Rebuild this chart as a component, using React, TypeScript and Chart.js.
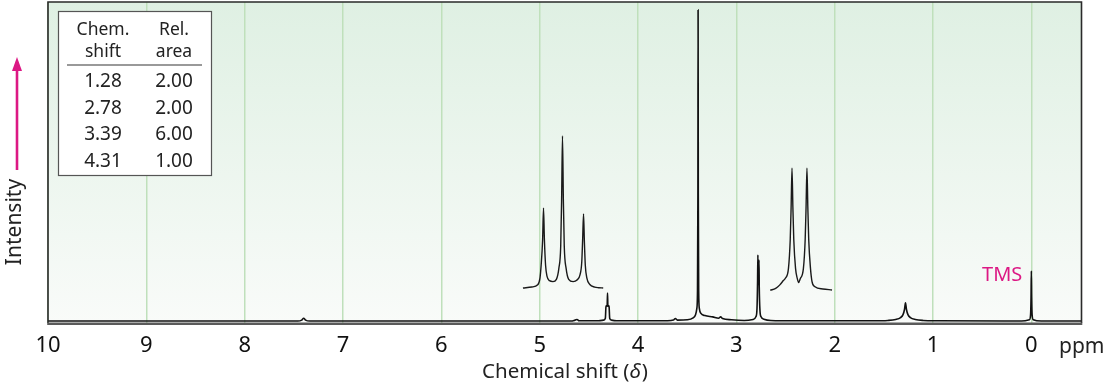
import React, { useEffect, useRef } from "react";
import { Chart, registerables } from "chart.js";

Chart.register(...registerables);

const FONT = "'Noto Sans', 'DejaVu Sans', sans-serif";

// x-axis ticks (ppm)
const shiftTicks = [10, 9, 8, 7, 6, 5, 4, 3, 2, 1, 0];

// main spectrum (chemical shift in ppm, relative intensity 0-100)
const mainShift = [
  10, 7.46, 7.42, 7.4, 7.38, 7.34,
  4.68, 4.64, 4.62, 4.6,
  4.4, 4.35, 4.332, 4.326, 4.32, 4.314, 4.31, 4.306, 4.3, 4.294, 4.288, 4.27, 4.22,
  3.7, 3.64, 3.62, 3.6,
  3.5, 3.44, 3.415, 3.402, 3.395, 3.391, 3.389, 3.387, 3.383, 3.376, 3.36, 3.32, 3.24, 3.18, 3.16, 3.14, 3.05,
  2.92, 2.83, 2.8, 2.79, 2.784, 2.781, 2.778, 2.774, 2.77, 2.767, 2.76, 2.75, 2.72, 2.65, 2.4,
  1.6, 1.46, 1.38, 1.33, 1.305, 1.29, 1.28, 1.27, 1.255, 1.23, 1.18, 1.1, 0.95,
  0.1, 0.02, 0.008, 0.003, 0, -0.003, -0.008, -0.02, -0.1, -0.51,
];
const mainIntensity = [
  0.6, 0.6, 0.9, 1.5, 0.9, 0.6,
  0.6, 0.9, 1.1, 0.7,
  0.7, 0.9, 1.5, 5.0, 5.4, 5.2, 9.3, 5.2, 5.4, 5.0, 1.5, 0.9, 0.7,
  0.7, 0.9, 1.4, 0.9,
  1.0, 1.6, 2.6, 4.5, 10, 40, 97.5, 40, 10, 4.5, 3.0, 2.3, 1.9, 1.5, 1.9, 1.4, 1.0,
  0.8, 1.1, 2.0, 4.5, 13, 21.2, 13, 12, 19.6, 11, 4, 2, 1.2, 0.8, 0.7,
  0.7, 0.8, 1.1, 1.7, 2.6, 4.2, 6.3, 4.2, 2.6, 1.7, 1.1, 0.8, 0.7,
  0.6, 1.0, 2.5, 8, 16.2, 8, 2.5, 1.0, 0.6, 0.6,
];

// expanded inset of the 4.31 multiplet
const inset1Shift = [
  5.17, 5.08, 5.02, 4.997, 4.985, 4.97, 4.961, 4.952, 4.94, 4.925, 4.9, 4.865,
  4.83, 4.805, 4.786, 4.777, 4.768, 4.759, 4.75, 4.731, 4.705, 4.66,
  4.62, 4.59, 4.572, 4.563, 4.554, 4.545, 4.536, 4.52, 4.49, 4.44, 4.4, 4.354,
];
const inset1Intensity = [
  10.9, 11.2, 11.9, 14, 18, 26, 35.8, 26, 18, 14.5, 13.2, 12.9,
  13.6, 17, 24, 38, 58.3, 38, 24, 17, 13.6, 12.9,
  13.4, 15, 19, 26, 34.0, 25, 18, 14, 12, 11.2, 11.0, 10.9,
];

// expanded inset of the 2.78 doublet
const inset2Shift = [
  2.655, 2.6, 2.56, 2.52, 2.5, 2.47, 2.452, 2.443, 2.434, 2.425, 2.416, 2.398, 2.38,
  2.367, 2.35, 2.318, 2.3, 2.291, 2.282, 2.273, 2.264, 2.246, 2.231, 2.2, 2.12, 2.027,
];
const inset2Intensity = [
  10.2, 10.8, 11.8, 13.3, 14, 17, 26, 36, 48.2, 36, 26, 17, 13.8,
  12.6, 13.8, 17, 26, 36, 48.2, 36, 26, 17, 13, 11.3, 10.6, 10.3,
];

// integration table
const tableHeaders = [
  ["Chem.", "shift"],
  ["Rel.", "area"],
];
const tableShifts = ["1.28", "2.78", "3.39", "4.31"];
const tableAreas = ["2.00", "2.00", "6.00", "1.00"];

const MAGENTA = "#dc1884";

const toPoints = (xs: number[], ys: number[]) => xs.map((x, i) => ({ x, y: ys[i] }));

const bgPlugin = {
  id: "bgPlugin",
  beforeDraw(chart: any) {
    const { ctx, chartArea: a } = chart;
    const g = ctx.createLinearGradient(0, a.top, 0, a.bottom);
    g.addColorStop(0, "#dff0e3");
    g.addColorStop(1, "#f9fbf9");
    ctx.save();
    ctx.fillStyle = g;
    ctx.fillRect(a.left, a.top, a.right - a.left, a.bottom - a.top);
    ctx.restore();
  },
};

const framePlugin = {
  id: "framePlugin",
  afterDatasetsDraw(chart: any) {
    const { ctx, chartArea: a } = chart;
    ctx.save();
    ctx.strokeStyle = "#2a2a2a";
    ctx.lineWidth = 1.6;
    ctx.beginPath();
    ctx.moveTo(a.left, a.bottom);
    ctx.lineTo(a.left, a.top);
    ctx.lineTo(a.right, a.top);
    ctx.lineTo(a.right, a.bottom);
    ctx.stroke();
    ctx.strokeStyle = "#5a5a5a";
    ctx.lineWidth = 2.6;
    ctx.beginPath();
    ctx.moveTo(a.left - 0.8, a.bottom + 0.8);
    ctx.lineTo(a.right + 0.8, a.bottom + 0.8);
    ctx.stroke();
    ctx.restore();
  },
};

const textPlugin = {
  id: "textPlugin",
  afterDraw(chart: any) {
    const { ctx } = chart;
    const xs = chart.scales.x;
    ctx.save();

    // integration table
    const tx = 58, ty = 11, tw = 153, th = 164;
    ctx.fillStyle = "#ffffff";
    ctx.fillRect(tx, ty, tw, th);
    ctx.strokeStyle = "#555";
    ctx.lineWidth = 1.2;
    ctx.strokeRect(tx + 0.5, ty + 0.5, tw, th);
    const colX = [103, 174];
    ctx.fillStyle = "#222";
    ctx.textAlign = "center";
    ctx.textBaseline = "alphabetic";
    ctx.font = `17.5px ${FONT}`;
    tableHeaders.forEach((h, i) => {
      ctx.fillText(h[0], colX[i], 35);
      ctx.fillText(h[1], colX[i], 57);
    });
    ctx.strokeStyle = "#999";
    ctx.lineWidth = 2;
    ctx.beginPath();
    ctx.moveTo(67, 65);
    ctx.lineTo(202, 65);
    ctx.stroke();
    ctx.font = `19px ${FONT}`;
    tableShifts.forEach((s, i) => {
      const y = 87 + i * 26.6;
      ctx.fillText(s, colX[0], y);
      ctx.fillText(tableAreas[i], colX[1], y);
    });

    // intensity arrow
    ctx.strokeStyle = MAGENTA;
    ctx.fillStyle = MAGENTA;
    ctx.lineWidth = 2.6;
    ctx.beginPath();
    ctx.moveTo(17, 170);
    ctx.lineTo(17, 68);
    ctx.stroke();
    ctx.beginPath();
    ctx.moveTo(17, 57);
    ctx.lineTo(22, 71);
    ctx.lineTo(12, 71);
    ctx.closePath();
    ctx.fill();

    // Intensity label
    ctx.save();
    ctx.translate(15, 222);
    ctx.rotate(-Math.PI / 2);
    ctx.fillStyle = "#222";
    ctx.font = `21px ${FONT}`;
    ctx.textAlign = "center";
    ctx.textBaseline = "middle";
    ctx.fillText("Intensity", 0, 0);
    ctx.restore();

    // TMS label
    ctx.fillStyle = MAGENTA;
    ctx.font = `20px ${FONT}`;
    ctx.textAlign = "right";
    ctx.textBaseline = "alphabetic";
    ctx.fillText("TMS", xs.getPixelForValue(0) - 9, 281);

    // ppm unit
    ctx.fillStyle = "#222";
    ctx.font = `21px ${FONT}`;
    ctx.textAlign = "left";
    ctx.fillText("ppm", 1059, 353);

    // axis title with italic delta
    const p1 = "Chemical shift (";
    const p2 = "\u03B4";
    const p3 = ")";
    const nf = `20.5px ${FONT}`;
    const itf = `italic 20.5px ${FONT}`;
    ctx.font = nf;
    const w1 = ctx.measureText(p1).width;
    const w3 = ctx.measureText(p3).width;
    ctx.font = itf;
    const w2 = ctx.measureText(p2).width;
    const total = w1 + w2 + w3 + 1;
    const x = 565 - total / 2;
    const by = 378;
    ctx.font = nf;
    ctx.fillText(p1, x, by);
    ctx.font = itf;
    ctx.fillText(p2, x + w1, by);
    ctx.font = nf;
    ctx.fillText(p3, x + w1 + w2 + 1, by);

    ctx.restore();
  },
};

export default function App() {
  const ref = useRef<HTMLCanvasElement | null>(null);

  useEffect(() => {
    document.body.style.margin = "0";
    if (!ref.current) return;
    Chart.defaults.font.family = FONT;
    const chart = new Chart(ref.current, {
      type: "line",
      data: {
        datasets: [
          {
            data: toPoints(mainShift, mainIntensity),
            borderColor: "#111",
            borderWidth: 1.6,
            pointRadius: 0,
            cubicInterpolationMode: "monotone",
            fill: false,
          },
          {
            data: toPoints(inset1Shift, inset1Intensity),
            borderColor: "#1a1a1a",
            borderWidth: 1.4,
            pointRadius: 0,
            cubicInterpolationMode: "monotone",
            fill: false,
          },
          {
            data: toPoints(inset2Shift, inset2Intensity),
            borderColor: "#1a1a1a",
            borderWidth: 1.4,
            pointRadius: 0,
            cubicInterpolationMode: "monotone",
            fill: false,
          },
        ],
      },
      options: {
        animation: false,
        responsive: false,
        devicePixelRatio: 1,
        layout: { padding: { left: 48, right: 22.5, top: 2, bottom: 0 } },
        plugins: { legend: { display: false }, tooltip: { enabled: false } },
        scales: {
          x: {
            type: "linear",
            reverse: true,
            min: -0.51,
            max: 10,
            afterBuildTicks: (s: any) => {
              s.ticks = shiftTicks.map((v) => ({ value: v }));
            },
            afterFit: (s: any) => {
              s.height = 65;
            },
            grid: { color: "#bfe0bb", lineWidth: 1.5, drawTicks: false },
            border: { display: false },
            ticks: {
              font: { size: 22, family: FONT },
              color: "#111",
              padding: 10,
              autoSkip: false,
              maxRotation: 0,
              callback: (v: any) => String(v),
            },
          },
          y: { display: false, min: 0, max: 100 },
        },
      },
      plugins: [bgPlugin, framePlugin, textPlugin],
    } as any);
    return () => chart.destroy();
  }, []);

  return (
    <div style={{ width: 1104, height: 388 }}>
      <canvas ref={ref} width={1104} height={388} style={{ width: 1104, height: 388, display: "block" }} />
    </div>
  );
}
